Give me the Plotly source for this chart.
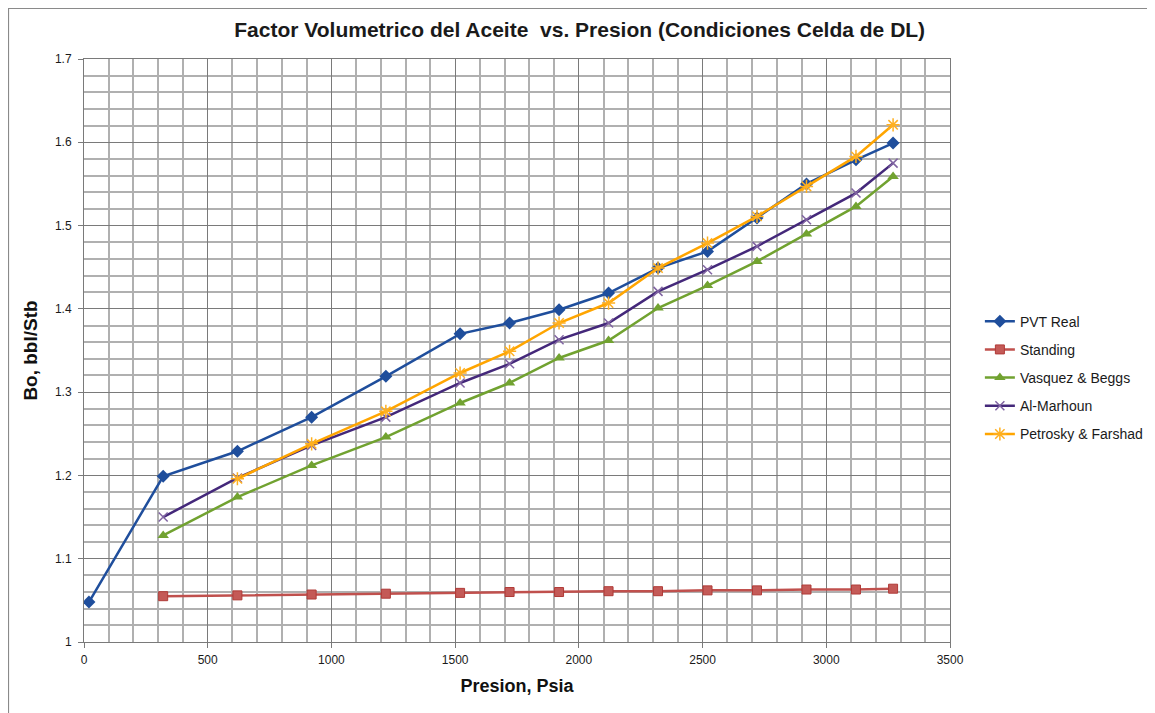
import plotly.graph_objects as go

# ---- data ----
pvt_x = [20, 320, 620, 920, 1220, 1520, 1720, 1920, 2120, 2320, 2520, 2720, 2920, 3120, 3270]
pvt_real = [1.048, 1.199, 1.229, 1.270, 1.319, 1.370, 1.383, 1.399, 1.419, 1.449, 1.469, 1.509, 1.550, 1.579, 1.599]

corr_x = [320, 620, 920, 1220, 1520, 1720, 1920, 2120, 2320, 2520, 2720, 2920, 3120, 3270]
standing = [1.055, 1.056, 1.057, 1.058, 1.059, 1.060, 1.060, 1.061, 1.061, 1.062, 1.062, 1.063, 1.063, 1.064]
vasquez_beggs = [1.128, 1.174, 1.212, 1.246, 1.287, 1.311, 1.341, 1.362, 1.401, 1.428, 1.457, 1.490, 1.523, 1.559]
al_marhoun = [1.150, 1.197, 1.236, 1.270, 1.311, 1.334, 1.363, 1.383, 1.421, 1.447, 1.475, 1.507, 1.539, 1.575]

pet_x = [620, 920, 1220, 1520, 1720, 1920, 2120, 2320, 2520, 2720, 2920, 3120, 3270]
petrosky = [1.196, 1.238, 1.277, 1.323, 1.349, 1.383, 1.407, 1.449, 1.479, 1.511, 1.547, 1.583, 1.621]

title = "Factor Volumetrico del Aceite  vs. Presion (Condiciones Celda de DL)"
x_title = "Presion, Psia"
y_title = "Bo, bbl/Stb"

FONT = "Liberation Sans, Arial, sans-serif"

fig = go.Figure()

series = [
    ("PVT Real", pvt_x, pvt_real, "#1F4E9C", dict(symbol="diamond", size=10, color="#1F4E9C")),
    ("Standing", corr_x, standing, "#C0504D",
     dict(symbol="square", size=9, color="#C45A57", line=dict(color="#B03A37", width=1))),
    ("Vasquez & Beggs", corr_x, vasquez_beggs, "#71A230", dict(symbol="triangle-up", size=10, color="#71A230")),
    ("Al-Marhoun", corr_x, al_marhoun, "#44287A",
     dict(symbol="x-thin", size=9, color="#8064A2", line=dict(color="#8064A2", width=1.5))),
    ("Petrosky & Farshad", pet_x, petrosky, "#FFA500",
     dict(symbol="asterisk", size=11, color="#FFB020", line=dict(color="#FFB020", width=1.5))),
]

for i, (name, xs, ys, col, mk) in enumerate(series):
    fig.add_trace(go.Scatter(
        x=xs, y=ys, name=name, mode="lines+markers",
        line=dict(color=col, width=2.5), marker=mk,
        legendgroup=str(i),
    ))

ML, MT, PW, PH = 76, 51, 866, 583
fig.update_layout(
    width=1155, height=713,
    margin=dict(l=ML, r=1155 - ML - PW, t=MT, b=713 - MT - PH, autoexpand=False),
    paper_bgcolor="white", plot_bgcolor="white",
    title=dict(text="<b>" + title + "</b>", x=0.495, xanchor="center",
               y=1 - 22 / 713, yanchor="middle",
               font=dict(family=FONT, size=21, color="#1a1a1a")),
    font=dict(family=FONT, color="#1a1a1a"),
    showlegend=True,
    legend=dict(x=1.0345, y=0.577, xanchor="left", yanchor="top",
                font=dict(family=FONT, size=14, color="#1a1a1a"),
                traceorder="grouped", tracegroupgap=7,
                bgcolor="rgba(0,0,0,0)"),
    shapes=[dict(type="rect", xref="paper", yref="paper",
                 x0=(0.5 - ML) / PW, x1=(1145 - ML) / PW,
                 y0=-(713 - MT - PH + 20) / PH, y1=(PH + MT - 0.5) / PH,
                 line=dict(color="#8a8a8a", width=1.2), layer="below")],
)

fig.update_xaxes(
    range=[0, 3500], dtick=500, tick0=0,
    showgrid=True, gridcolor="#7a7a7a", gridwidth=1,
    minor=dict(dtick=100, showgrid=True, gridcolor="#b0b0b0", gridwidth=1.5),
    showline=True, linecolor="#7a7a7a", linewidth=1, mirror=True,
    ticks="outside", ticklen=5, tickcolor="#7a7a7a",
    tickfont=dict(family=FONT, size=12, color="#1a1a1a"),
    ticklabelstandoff=2,
    zeroline=False,
    title=dict(text="<b>" + x_title + "</b>", font=dict(family=FONT, size=18, color="#111"), standoff=12),
)
fig.update_yaxes(
    range=[1, 1.7], dtick=0.1, tick0=1,
    showgrid=True, gridcolor="#7a7a7a", gridwidth=1,
    minor=dict(dtick=0.02, showgrid=True, gridcolor="#b0b0b0", gridwidth=1.5),
    showline=True, linecolor="#7a7a7a", linewidth=1, mirror=True,
    ticks="outside", ticklen=5, tickcolor="#7a7a7a",
    tickfont=dict(family=FONT, size=12, color="#1a1a1a"),
    ticklabelstandoff=4,
    zeroline=False,
    title=dict(text="<b>" + y_title + "</b>", font=dict(family=FONT, size=19, color="#111"), standoff=12),
)

fig.write_html("out.html")
